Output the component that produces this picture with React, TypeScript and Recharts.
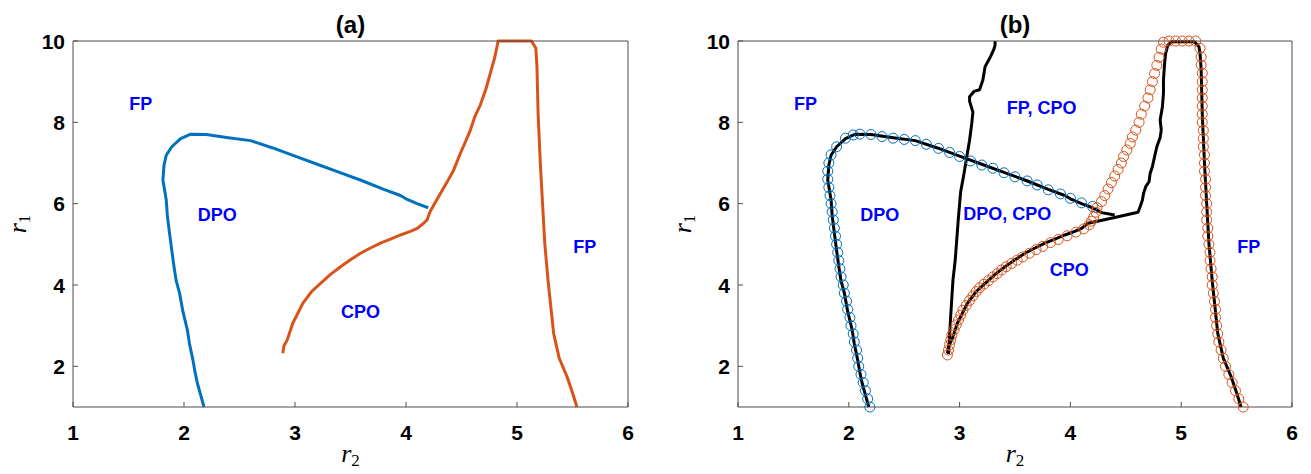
import { LineChart, Line, XAxis, YAxis, ReferenceDot, Label } from 'recharts'

const BLUE = '#0072BD'
const ORANGE = '#D95319'
const BLACK = '#000000'
const TEXT_BLUE = '#0000FF'
const AXIS = '#4D4D4D'
const SANS = '"Liberation Sans", Arial, Helvetica, sans-serif'
const SERIF = '"Liberation Serif", "Times New Roman", serif'

const r2Ticks = [1, 2, 3, 4, 5, 6]
const r1Ticks = [2, 4, 6, 8, 10]

type Pt = [number, number] // [r2, r1]

// panel (a): DPO boundary
const dpoCurve: Pt[] = [
  [2.18, 1.0], [2.15, 1.3], [2.12, 1.59], [2.1, 1.85], [2.08, 2.16], [2.05, 2.55], [2.03, 2.9],
  [1.99, 3.35], [1.96, 3.8], [1.93, 4.1], [1.91, 4.45], [1.89, 4.85], [1.87, 5.27], [1.85, 5.7],
  [1.84, 6.09], [1.81, 6.58], [1.82, 6.95], [1.84, 7.19], [1.89, 7.4], [1.97, 7.6], [2.06, 7.71],
  [2.2, 7.7], [2.4, 7.62], [2.6, 7.55], [2.8, 7.37], [3.0, 7.17], [3.2, 6.97], [3.4, 6.77],
  [3.6, 6.57], [3.8, 6.35], [3.95, 6.2], [4.0, 6.12], [4.1, 6.0], [4.2, 5.9],
]

// panel (a): CPO boundary
const cpoCurve: Pt[] = [
  [2.89, 2.32], [2.9, 2.5], [2.93, 2.65], [2.98, 3.06], [3.07, 3.55], [3.15, 3.84], [3.23, 4.04],
  [3.32, 4.26], [3.41, 4.45], [3.5, 4.62], [3.59, 4.78], [3.68, 4.91], [3.77, 5.03], [3.86, 5.13],
  [3.95, 5.23], [4.04, 5.32], [4.1, 5.39], [4.16, 5.52], [4.19, 5.6], [4.2, 5.68], [4.22, 5.82],
  [4.31, 6.25], [4.37, 6.53], [4.43, 6.83], [4.49, 7.24], [4.54, 7.55], [4.58, 7.81], [4.62, 8.14],
  [4.67, 8.43], [4.72, 8.82], [4.76, 9.21], [4.8, 9.6], [4.83, 10], [4.95, 10], [5.05, 10],
  [5.13, 10], [5.17, 9.82], [5.18, 9.36], [5.19, 8.22], [5.21, 7.0], [5.23, 6.01], [5.25, 5.03],
  [5.28, 4.1], [5.33, 2.81], [5.38, 2.2], [5.45, 1.75], [5.5, 1.35], [5.54, 1.0],
]

// panel (b): black boundaries
const dpoTail: Pt[] = [[4.2, 5.9], [4.28, 5.78], [4.4, 5.72]]

const cpoBlack: Pt[] = [
  [2.89, 2.32], [2.9, 2.5], [2.93, 2.65], [2.98, 3.06], [3.07, 3.55], [3.15, 3.84], [3.23, 4.04],
  [3.32, 4.26], [3.41, 4.45], [3.5, 4.62], [3.59, 4.78], [3.68, 4.91], [3.77, 5.03], [3.86, 5.13],
  [3.95, 5.23], [4.04, 5.32], [4.1, 5.39], [4.16, 5.52], [4.4, 5.66], [4.61, 5.79], [4.63, 5.93],
  [4.65, 6.09], [4.66, 6.25], [4.68, 6.42], [4.71, 6.54], [4.72, 6.75], [4.74, 6.91], [4.76, 7.16],
  [4.78, 7.4], [4.81, 7.63], [4.82, 7.81], [4.81, 8.06], [4.83, 8.38], [4.84, 8.71], [4.84, 9.04],
  [4.85, 9.45], [4.86, 9.7], [4.88, 9.9], [4.91, 9.98], [5.12, 9.98], [5.16, 9.86], [5.17, 9.7],
  [5.18, 9.3], [5.19, 8.22], [5.21, 7.0], [5.23, 6.01], [5.25, 5.03], [5.28, 4.1], [5.33, 2.81],
  [5.38, 2.2], [5.45, 1.75], [5.5, 1.35], [5.54, 1.0],
]

const fpBorder: Pt[] = [
  [2.9, 2.3], [2.92, 3.25], [2.94, 4.12], [2.96, 4.6], [2.99, 5.68], [3.01, 6.3], [3.04, 6.74],
  [3.07, 7.24], [3.09, 7.56], [3.11, 7.98], [3.12, 8.25], [3.09, 8.52], [3.09, 8.63], [3.13, 8.76],
  [3.18, 8.8], [3.21, 9.04], [3.23, 9.37], [3.28, 9.62], [3.31, 9.8], [3.32, 9.9], [3.32, 10],
]

// panel (b): continuation markers
const dpoMarks: Pt[] = [
  [2.19, 1.0], [2.17, 1.2], [2.15, 1.4], [2.13, 1.6], [2.11, 1.8], [2.09, 2.0], [2.08, 2.2],
  [2.07, 2.4], [2.05, 2.6], [2.04, 2.8], [2.02, 3.0], [2.01, 3.2], [1.99, 3.4], [1.98, 3.6],
  [1.96, 3.8], [1.95, 4.0], [1.93, 4.2], [1.92, 4.4], [1.91, 4.6], [1.9, 4.8], [1.89, 5.0],
  [1.88, 5.2], [1.87, 5.4], [1.86, 5.6], [1.85, 5.8], [1.84, 6.0], [1.83, 6.2], [1.82, 6.4],
  [1.81, 6.6], [1.81, 6.8], [1.82, 7.0], [1.84, 7.2], [1.89, 7.4], [1.97, 7.61], [2.04, 7.69],
  [2.1, 7.71], [2.2, 7.7], [2.3, 7.65], [2.4, 7.61], [2.5, 7.58], [2.6, 7.55], [2.7, 7.46],
  [2.81, 7.36], [2.91, 7.26], [3.0, 7.16], [3.1, 7.05], [3.2, 6.95], [3.3, 6.87], [3.4, 6.76],
  [3.5, 6.66], [3.61, 6.56], [3.7, 6.46], [3.8, 6.34], [3.91, 6.24], [4.0, 6.13], [4.1, 6.02],
  [4.2, 5.93],
]

const cpoMarks: Pt[] = [
  [2.89, 2.28], [2.9, 2.4], [2.91, 2.53], [2.92, 2.65], [2.93, 2.77], [2.95, 2.9], [2.97, 3.02],
  [2.99, 3.14], [3.01, 3.26], [3.03, 3.38], [3.06, 3.5], [3.09, 3.62], [3.12, 3.73], [3.15, 3.84],
  [3.18, 3.93], [3.22, 4.02], [3.26, 4.11], [3.3, 4.2], [3.34, 4.28], [3.38, 4.37], [3.42, 4.45],
  [3.47, 4.53], [3.52, 4.61], [3.57, 4.69], [3.63, 4.78], [3.69, 4.87], [3.75, 4.95], [3.82, 5.04],
  [3.89, 5.12], [3.97, 5.21], [4.05, 5.3], [4.12, 5.38], [4.17, 5.48], [4.19, 5.57], [4.21, 5.67],
  [4.23, 5.79], [4.24, 5.9], [4.28, 6.05], [4.31, 6.2], [4.34, 6.36], [4.37, 6.52], [4.4, 6.68],
  [4.43, 6.84], [4.46, 7.0], [4.48, 7.16], [4.51, 7.32], [4.54, 7.48], [4.56, 7.64], [4.59, 7.81],
  [4.62, 8.0], [4.64, 8.2], [4.67, 8.4], [4.7, 8.6], [4.72, 8.8], [4.74, 9.0], [4.76, 9.2],
  [4.78, 9.4], [4.8, 9.6], [4.82, 9.8], [4.84, 9.97], [4.89, 10], [4.95, 10], [5.01, 10],
  [5.07, 10], [5.13, 10], [5.17, 9.82], [5.18, 9.61], [5.18, 9.41], [5.19, 9.21], [5.19, 9.0],
  [5.19, 8.8], [5.19, 8.6], [5.19, 8.4], [5.19, 8.2], [5.19, 8.0], [5.2, 7.8], [5.2, 7.6],
  [5.2, 7.4], [5.21, 7.2], [5.21, 7.0], [5.21, 6.8], [5.22, 6.6], [5.22, 6.4], [5.22, 6.2],
  [5.23, 6.0], [5.23, 5.8], [5.23, 5.6], [5.24, 5.4], [5.24, 5.2], [5.25, 5.0], [5.26, 4.8],
  [5.26, 4.6], [5.27, 4.4], [5.28, 4.2], [5.28, 4.0], [5.29, 3.8], [5.3, 3.6], [5.31, 3.4],
  [5.31, 3.2], [5.32, 3.0], [5.33, 2.8], [5.34, 2.6], [5.36, 2.4], [5.38, 2.2], [5.4, 2.0],
  [5.43, 1.8], [5.46, 1.6], [5.49, 1.4], [5.52, 1.2], [5.56, 1.0],
]

// region names [text, r2, r1]
const regionsA: [string, number, number][] = [
  ['FP', 1.61, 8.47], ['DPO', 2.3, 5.72], ['CPO', 3.59, 3.35], ['FP', 5.61, 4.95],
]
const regionsB: [string, number, number][] = [
  ['FP', 1.61, 8.45], ['FP, CPO', 3.74, 8.37], ['DPO', 2.28, 5.72],
  ['DPO, CPO', 3.43, 5.76], ['CPO', 3.99, 4.37], ['FP', 5.61, 4.94],
]

const toRows = (pts: Pt[]) => pts.map(([r2, r1]) => ({ r2, r1 }))

const tickFont = { fontFamily: SANS, fontWeight: 700, fontSize: 21, fill: '#000' }

const BottomTick = ({ x, y, payload }: any) => (
  <g>
    <line x1={x} y1={y} x2={x} y2={y - 5} stroke={AXIS} />
    <text x={x} y={y + 33} textAnchor="middle" {...tickFont}>{payload.value}</text>
  </g>
)
const TopTick = ({ x, y }: any) => <line x1={x} y1={y} x2={x} y2={y + 5} stroke={AXIS} />
const LeftTick = ({ x, y, payload }: any) => (
  <g>
    <line x1={x} y1={y} x2={x + 5} y2={y} stroke={AXIS} />
    <text x={x - 8} y={y + 7.5} textAnchor="end" {...tickFont}>{payload.value}</text>
  </g>
)
const RightTick = ({ x, y }: any) => <line x1={x} y1={y} x2={x - 5} y2={y} stroke={AXIS} />

const R2Label = ({ viewBox }: any) => (
  <text x={viewBox.x + viewBox.width / 2} y={viewBox.y + 55} textAnchor="middle"
    fontFamily={SERIF} fontSize={26} fontStyle="italic" fill="#000">
    r<tspan fontStyle="normal" fontSize={17} dy={4}>2</tspan>
  </text>
)

const R1Label = ({ viewBox }: any) => {
  const cx = viewBox.x + viewBox.width - 47
  const cy = viewBox.y + viewBox.height / 2
  return (
    <text x={cx} y={cy} transform={`rotate(-90 ${cx} ${cy})`} textAnchor="middle"
      fontFamily={SERIF} fontSize={26} fontStyle="italic" fill="#000">
      r<tspan fontStyle="normal" fontSize={17} dy={4}>1</tspan>
    </text>
  )
}

const titleLabel = (title: string) => ({ viewBox }: any) => (
  <text x={viewBox.x + viewBox.width / 2} y={viewBox.y + 23} textAnchor="middle"
    fontFamily={SANS} fontWeight={700} fontSize={24} fill="#000">
    {title}
  </text>
)

interface PanelProps {
  title: string
  width: number
  left: number
  right: number
  regions: [string, number, number][]
  children: React.ReactNode
}

function Panel({ title, width, left, right, regions, children }: PanelProps) {
  return (
    <LineChart width={width} height={474} margin={{ top: 10, right, bottom: 27, left }}>
      <XAxis dataKey="r2" type="number" domain={[1, 6]} ticks={r2Ticks} interval={0}
        height={40} tickSize={0} tickMargin={0} tickLine={false}
        axisLine={{ stroke: AXIS }} tick={BottomTick}
        label={<Label content={R2Label} />} />
      <XAxis xAxisId="top" orientation="top" type="number" domain={[1, 6]} ticks={r2Ticks}
        interval={0} height={31} tickSize={0} tickMargin={0} tickLine={false}
        axisLine={{ stroke: AXIS }} tick={TopTick}
        label={<Label content={titleLabel(title)} />} />
      <YAxis type="number" domain={[1, 10]} ticks={r1Ticks} interval={0} width={40}
        tickSize={0} tickMargin={0} tickLine={false} axisLine={{ stroke: AXIS }}
        tick={LeftTick} label={<Label content={R1Label} />} />
      <YAxis yAxisId="right" orientation="right" type="number" domain={[1, 10]}
        ticks={r1Ticks} interval={0} width={10} tickSize={0} tickMargin={0}
        tickLine={false} axisLine={{ stroke: AXIS }} tick={RightTick} />
      {children}
      {regions.map(([text, r2, r1], i) => (
        <ReferenceDot key={`rg-${i}`} x={r2} y={r1} r={0} fill="none" stroke="none"
          label={{ value: text, position: 'center', fill: TEXT_BLUE, fontSize: 18,
            fontWeight: 700, fontFamily: SANS }} />
      ))}
    </LineChart>
  )
}

const curve = (key: string, pts: Pt[], color: string) => (
  <Line key={key} data={toRows(pts)} dataKey="r1" type="linear" stroke={color}
    strokeWidth={3} strokeLinejoin="round" dot={false} activeDot={false}
    isAnimationActive={false} />
)

const markers = (key: string, pts: Pt[], color: string) => (
  <Line key={key} data={toRows(pts)} dataKey="r1" type="linear" stroke="none"
    dot={{ r: 5, stroke: color, strokeWidth: 1, fill: 'none' }} activeDot={false}
    isAnimationActive={false} />
)

export default function App() {
  return (
    <div style={{ position: 'absolute', left: 0, top: 0, width: 1311, height: 474, background: '#fff' }}>
      <div style={{ position: 'absolute', left: 0, top: 0 }}>
        <Panel title="(a)" width={660} left={33} right={22} regions={regionsA}>
          {curve('dpo', dpoCurve, BLUE)}
          {curve('cpo', cpoCurve, ORANGE)}
        </Panel>
      </div>
      <div style={{ position: 'absolute', left: 660, top: 0 }}>
        <Panel title="(b)" width={651} left={38} right={9} regions={regionsB}>
          {curve('dpoB', dpoCurve, BLACK)}
          {curve('dpoTail', dpoTail, BLACK)}
          {curve('cpoB', cpoBlack, BLACK)}
          {curve('fpB', fpBorder, BLACK)}
          {markers('dpoM', dpoMarks, BLUE)}
          {markers('cpoM', cpoMarks, ORANGE)}
        </Panel>
      </div>
    </div>
  )
}
